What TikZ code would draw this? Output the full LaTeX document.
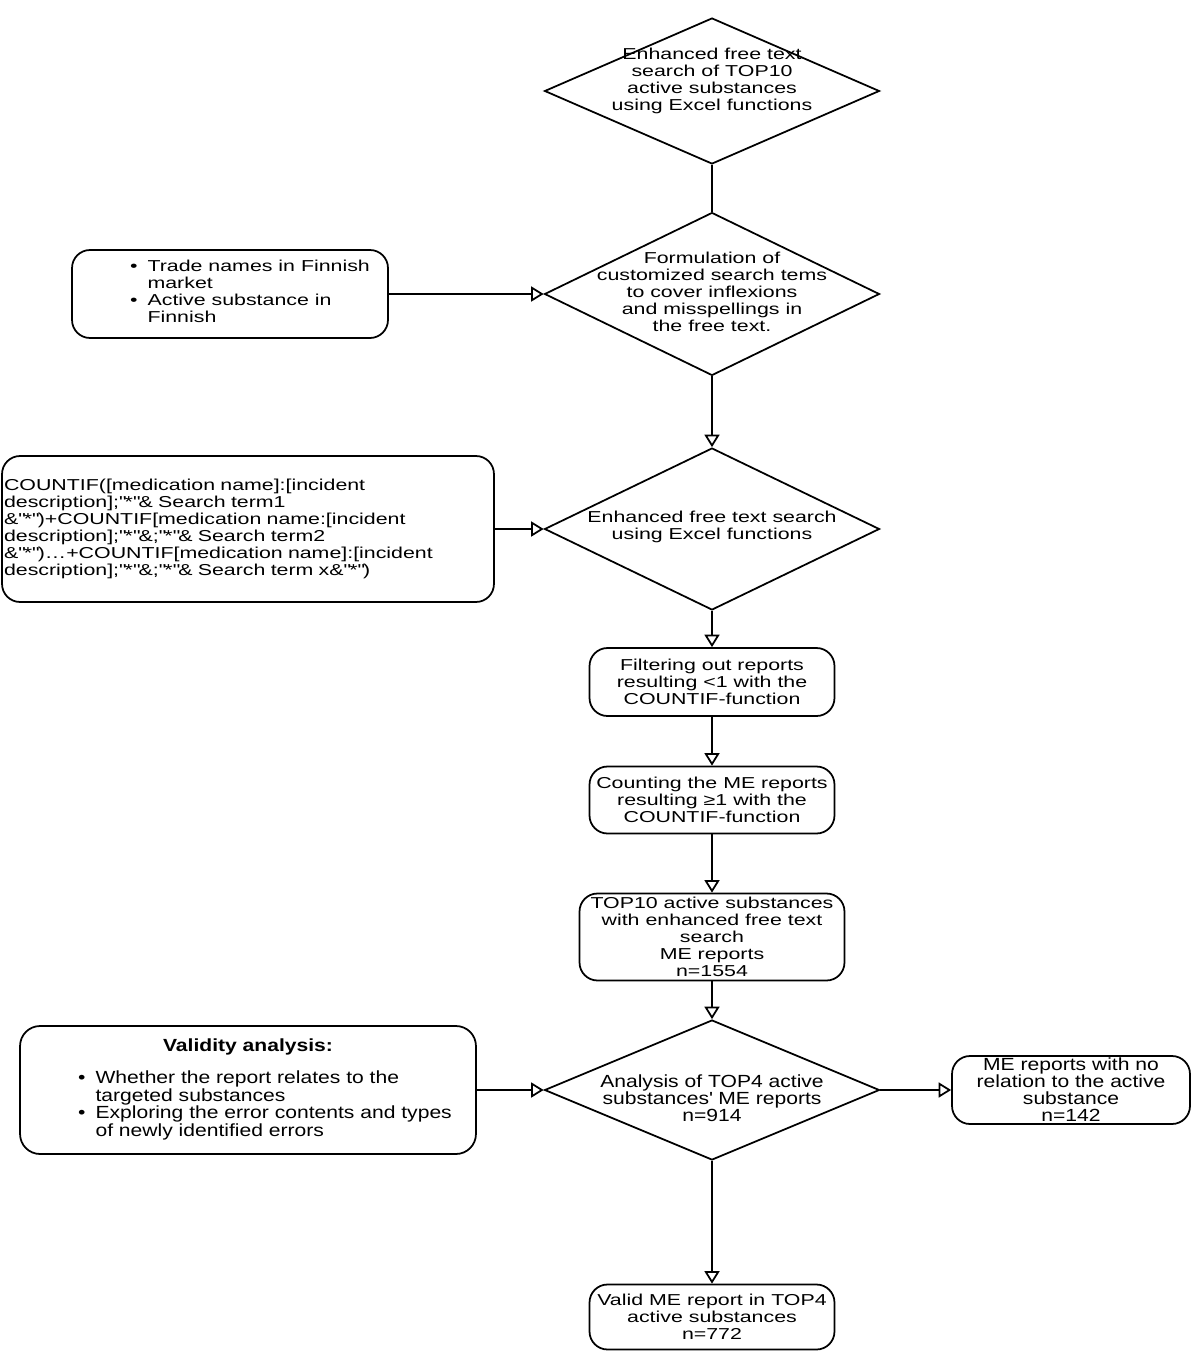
\documentclass[tikz,border=0pt]{standalone}
\usepackage{fontspec}
\setmainfont{Liberation Sans}[FakeStretch=1.35]
\newfontfamily\narrowfont{Liberation Sans}[FakeStretch=1.2]
\newcommand\mainfs{\fontsize{9pt}{9.64pt}\selectfont}
\newcommand\narrowfs{\narrowfont\fontsize{10pt}{9.64pt}\selectfont}
\newcommand\qq{\textquotedbl}
\usetikzlibrary{shapes.geometric,arrows.meta,positioning}
\tikzset{
    decision/.style={
           diamond,
           draw, line width=1pt,
           inner sep=0pt,
           minimum width=6.7cm,
           },
}
\tikzset{
    process/.style={
           rectangle,
           rounded corners=0.36cm,
           draw, line width=1pt,
           align=center,
           inner sep=1pt,
           },
}
\tikzset{
    flow/.style={
           draw, line width=1pt,
           -{Triangle[open,length=0.25cm,width=0.3cm]},
           },
}
\tikzset{
    plain/.style={
           align=center,
           inner sep=0pt,
           },
}

\begin{document}
\begin{tikzpicture}[x=0.02cm,y=-0.02cm,font=\mainfs]
\useasboundingbox (0,0) rectangle (1200,1352);
% main column
\node[decision,minimum height=2.92cm](d1) at (712,91){};
\node[plain](d1txt) at (712,81){Enhanced free text\\search of TOP10\\active substances\\using Excel functions};
\node[decision,minimum height=3.26cm](d2) at (712,294){};
\node[plain](d2txt) at (712,292){Formulation of\\customized search tems\\to cover inflexions\\and misspellings in\\the free text.};
\node[decision,minimum height=3.24cm](d3) at (712,529){};
\node[plain](d3txt) at (712,527){Enhanced free text search\\using Excel functions};
\node[process,minimum width=4.9cm,minimum height=1.36cm](filter) at (712,682){Filtering out reports\\resulting <1 with the\\COUNTIF-function};
\node[process,minimum width=4.9cm,minimum height=1.34cm](count) at (712,800){Counting the ME reports\\resulting ≥1 with the\\COUNTIF-function};
\node[process,minimum width=5.3cm,minimum height=1.74cm](top10) at (712,937){TOP10 active substances\\with enhanced free text\\search\\ME reports\\n=1554};
\node[decision,minimum height=2.8cm](d4) at (712,1090){};
\node[plain,font=\narrowfs](d4txt) at (712,1098){Analysis of TOP4 active\\substances\textquotesingle{} ME reports\\n=914};
\node[process,minimum width=4.9cm,minimum height=1.3cm](result) at (712,1317){Valid ME report in TOP4\\active substances\\n=772};
% side boxes
\node[process,minimum width=6.32cm,minimum height=1.76cm](trade) at (230,294){\hspace*{0.8cm}\begin{tabular}{@{}c@{\hspace{0.2cm}}l@{}}
\textbullet & Trade names in Finnish\\
 & market\\
\textbullet & Active substance in\\
 & Finnish
\end{tabular}};
\node[process,minimum width=9.84cm,minimum height=2.92cm,text width=9.76cm,align=left,inner xsep=0.04cm](formula) at (248,529){COUNTIF([medication name]:[incident\\description];\qq*\qq\& Search term1\\\&\qq*\qq)+COUNTIF[medication name:[incident\\description];\qq*\qq\&;\qq*\qq\& Search term2\\\&\qq*\qq)\ldots+COUNTIF[medication name]:[incident\\description];\qq*\qq\&;\qq*\qq\& Search term x\&\qq*\qq)};
\node[process,minimum width=9.12cm,minimum height=2.56cm,rounded corners=0.4cm,font=\narrowfs](validity) at (248,1090){\textbf{Validity analysis:}\\[8pt]\hspace*{0.68cm}\begin{tabular}{@{}c@{\hspace{0.2cm}}l@{}}
\textbullet & Whether the report relates to the\\
 & targeted substances\\
\textbullet & Exploring the error contents and types\\
 & of newly identified errors
\end{tabular}};
\node[process,minimum width=4.76cm,minimum height=1.36cm,font=\narrowfs](norel) at (1071,1090){ME reports with no\\relation to the active\\substance\\n=142};
% connectors
\draw[line width=1pt] (d1) -- (d2);
\draw[flow] (d2) -- (d3);
\draw[flow] (d3) -- (filter);
\draw[flow] (filter) -- (count);
\draw[flow] (count) -- (top10);
\draw[flow] (top10) -- (d4);
\draw[flow] (d4) -- (result);
\draw[flow] (trade) -- (d2);
\draw[flow] (formula) -- (d3);
\draw[flow] (validity) -- (d4);
\draw[flow] (d4) -- (norel);
\end{tikzpicture}
\end{document}
